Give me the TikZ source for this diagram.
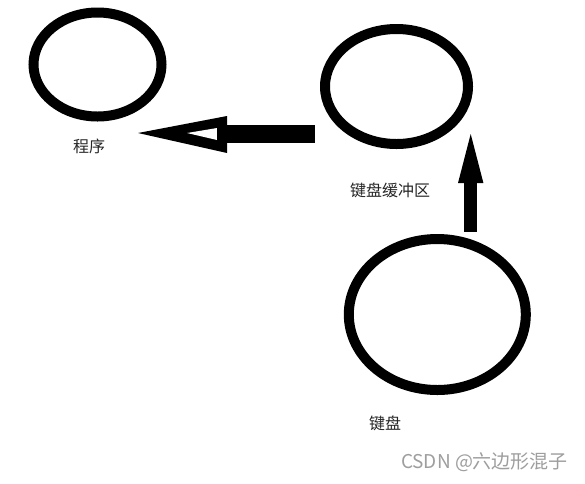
\documentclass[tikz,border=0pt]{standalone}
\usepackage{fontspec}
\newfontfamily\cjk{Noto Sans CJK SC}
\usetikzlibrary{shapes.geometric}
\begin{document}
\begin{tikzpicture}[x=1pt,y=-1pt,
  ring/.style={draw=black,line width=10pt,ellipse,inner sep=0pt,fill=none},
  lbl/.style={font=\cjk\fontsize{16}{16}\selectfont,inner sep=0pt,text=black!85},
  wmark/.style={font=\cjk\fontsize{19}{19}\selectfont,inner sep=0pt,text=black!38}]
\useasboundingbox[fill=white] (0,0) rectangle (585,483);
% ellipses
\node[ring,minimum width=128pt,minimum height=104pt] (prog) at (97.5,64.5) {};
\node[ring,minimum width=143pt,minimum height=115pt] (buf) at (396.5,86.5) {};
\node[ring,minimum width=177pt,minimum height=151pt] (kbd) at (437.3,314.5) {};
% labels
\node[lbl] (progl) at (89,146) {程序};
\node[lbl] (bufl) at (390,190) {键盘缓冲区};
\node[lbl] (kbdl) at (385,423) {键盘};
\node[wmark] (wm) at (484.5,462) {CSDN @六边形混子};
% left block arrow
\fill[black] (138,133) -- (227,116) -- (227,153) -- cycle;
\fill[white] (187,133) -- (217,128) -- (217,140) -- cycle;
\fill[black] (217,125) rectangle (315,143);
% up block arrow
\fill[black] (470.7,134) -- (458,183) -- (483.4,183) -- cycle;
\fill[black] (464,182) rectangle (476.7,232);
\end{tikzpicture}
\end{document}
